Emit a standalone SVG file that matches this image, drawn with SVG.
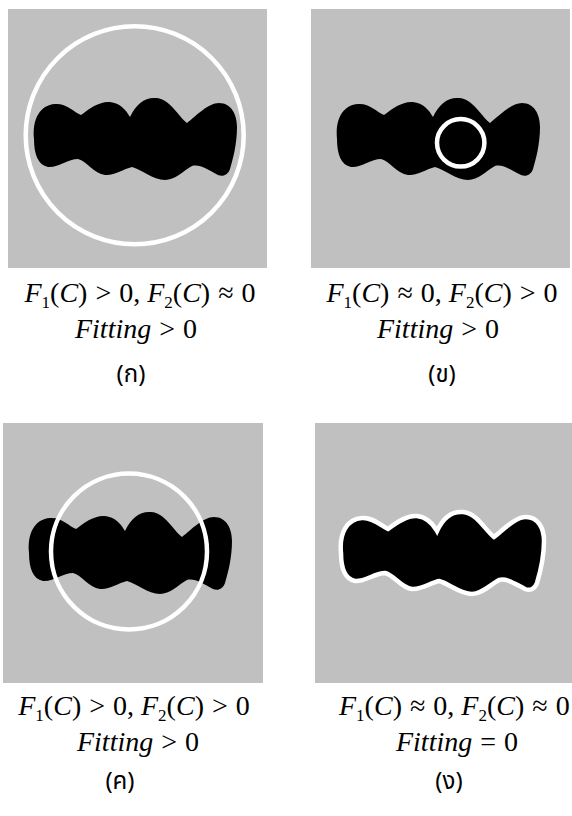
<svg xmlns="http://www.w3.org/2000/svg" width="572" height="816" viewBox="0 0 572 816">
<style>
.bg{fill:#c0c0c0}
.blob{fill:#000}
.ring{fill:none;stroke:#fff;stroke-width:4.5}
.math{font-family:"Liberation Serif","Times New Roman",serif;font-size:28px;fill:#000;text-anchor:middle}
.it{font-style:italic}
.sub{font-size:17px}
.lab{font-family:"Noto Sans Thai","Noto Sans","DejaVu Sans",sans-serif;font-size:24px;fill:#000;text-anchor:middle}
</style>
<defs>
<path id="shape" d="M26,130 C24,110 32,96 47,95 C58,94 66,103 73,106 C82,99 92,92 102,93 C112,94 118,101 122,108 C128,95 137,88 148,89 C162,90 170,107 179,114 C188,107 200,94 211,94 C223,94 229,105 229,118 C229,135 225,150 222,160 C220,166 215,168 210,166 C200,161 192,155 184,157 C175,162 167,171 157,171 C145,171 133,160 124,158 C115,160 106,167 97,166 C86,165 79,152 70,150 C60,150 50,159 40,158 C30,156 26,145 26,130 Z"/>
</defs>

<g id="panel-a">
<rect class="bg" x="8" y="9" width="259" height="259"/>
<use href="#shape" class="blob" transform="translate(8,9)"/>
<circle class="ring" cx="134.7" cy="135.3" r="109"/>
<text class="math" x="140" y="302"><tspan class="it">F</tspan><tspan class="sub" dy="6">1</tspan><tspan dy="-6">(</tspan><tspan class="it">C</tspan>) <tspan dx="1">&gt;</tspan> <tspan dx="1">0,</tspan> <tspan class="it">F</tspan><tspan class="sub" dy="6">2</tspan><tspan dy="-6">(</tspan><tspan class="it">C</tspan>) <tspan dx="1">≈</tspan> <tspan dx="1">0</tspan></text>
<text class="math" x="136" y="338"><tspan class="it">Fitting</tspan> <tspan dx="1">&gt;</tspan> <tspan dx="1">0</tspan></text>
<text class="lab" x="131" y="382">(ก)</text>
</g>

<g id="panel-b">
<rect class="bg" x="311" y="9" width="259" height="259"/>
<use href="#shape" class="blob" transform="translate(311,9)"/>
<circle class="ring" cx="460.7" cy="142.8" r="23.7"/>
<text class="math" x="442" y="302"><tspan class="it">F</tspan><tspan class="sub" dy="6">1</tspan><tspan dy="-6">(</tspan><tspan class="it">C</tspan>) <tspan dx="1">≈</tspan> <tspan dx="1">0,</tspan> <tspan class="it">F</tspan><tspan class="sub" dy="6">2</tspan><tspan dy="-6">(</tspan><tspan class="it">C</tspan>) <tspan dx="1">&gt;</tspan> <tspan dx="1">0</tspan></text>
<text class="math" x="438" y="338"><tspan class="it">Fitting</tspan> <tspan dx="1">&gt;</tspan> <tspan dx="1">0</tspan></text>
<text class="lab" x="442" y="382">(ข)</text>
</g>

<g id="panel-c">
<rect class="bg" x="3" y="423" width="260" height="260"/>
<use href="#shape" class="blob" transform="translate(3,423)"/>
<circle class="ring" cx="129" cy="551.5" r="78"/>
<text class="math" x="134" y="715"><tspan class="it">F</tspan><tspan class="sub" dy="6">1</tspan><tspan dy="-6">(</tspan><tspan class="it">C</tspan>) <tspan dx="1">&gt;</tspan> <tspan dx="1">0,</tspan> <tspan class="it">F</tspan><tspan class="sub" dy="6">2</tspan><tspan dy="-6">(</tspan><tspan class="it">C</tspan>) <tspan dx="1">&gt;</tspan> <tspan dx="1">0</tspan></text>
<text class="math" x="138" y="751"><tspan class="it">Fitting</tspan> <tspan dx="1">&gt;</tspan> <tspan dx="1">0</tspan></text>
<text class="lab" x="120" y="789">(ค)</text>
</g>

<g id="panel-d">
<rect class="bg" x="315" y="423" width="259" height="260"/>
<use href="#shape" class="blob" transform="translate(315,423)" stroke="#fff" stroke-width="4.5"/>
<text class="math" x="339" y="715" style="text-anchor:start"><tspan class="it">F</tspan><tspan class="sub" dy="6">1</tspan><tspan dy="-6">(</tspan><tspan class="it">C</tspan>) <tspan dx="1">≈</tspan> <tspan dx="1">0,</tspan> <tspan class="it">F</tspan><tspan class="sub" dy="6">2</tspan><tspan dy="-6">(</tspan><tspan class="it">C</tspan>) <tspan dx="1">≈</tspan> <tspan dx="1">0</tspan></text>
<text class="math" x="457" y="751"><tspan class="it">Fitting</tspan> <tspan dx="1">=</tspan> <tspan dx="1">0</tspan></text>
<text class="lab" x="449" y="789">(ง)</text>
</g>
</svg>
